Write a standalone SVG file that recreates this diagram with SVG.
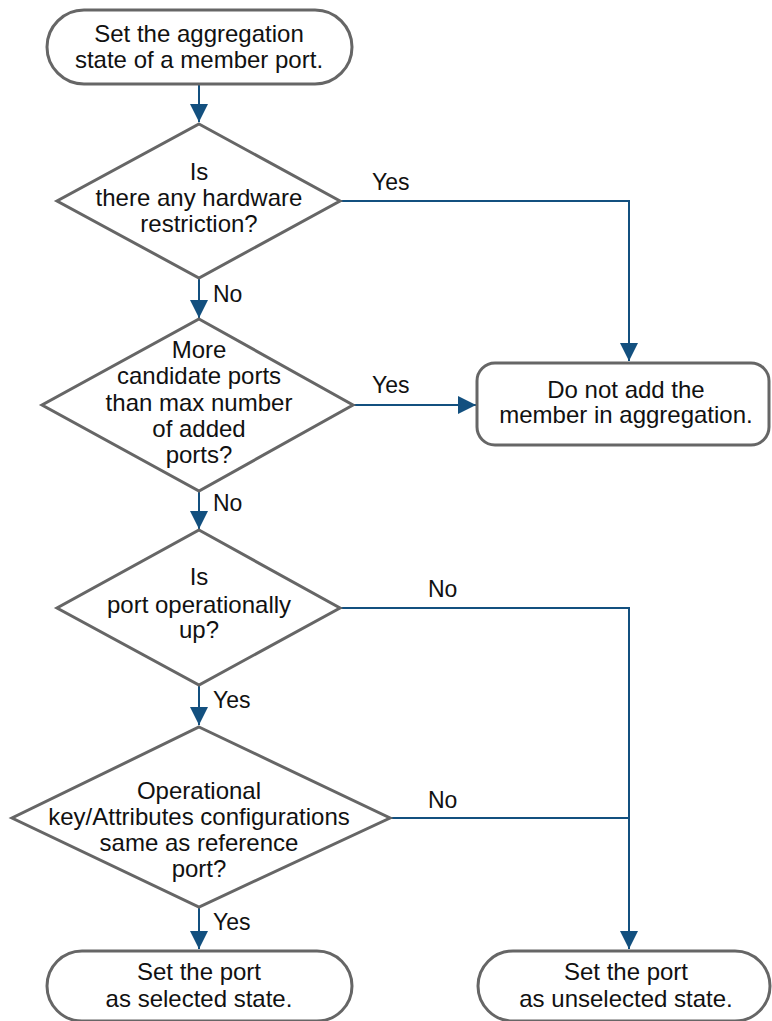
<svg xmlns="http://www.w3.org/2000/svg" width="772" height="1021" viewBox="0 0 772 1021">
<defs>
<style>
.box{fill:#fff;stroke:#666;stroke-width:3}
.t{font-family:"Liberation Sans",Arial,sans-serif;font-size:24px;fill:#111;text-anchor:middle}
.l{font-family:"Liberation Sans",Arial,sans-serif;font-size:23px;fill:#111}
.c{fill:none;stroke:#13507f;stroke-width:2}
</style>
<marker id="a" viewBox="0 0 18 18" refX="18" refY="9" markerWidth="18" markerHeight="18" markerUnits="userSpaceOnUse" orient="auto">
<path d="M0,0 L18,9 L0,18 Z" fill="#13507f"/>
</marker>
</defs>
<g id="connectors">
<path class="c" d="M199,85 V122" marker-end="url(#a)"/>
<path class="c" d="M340,201 H629 V361" marker-end="url(#a)"/>
<path class="c" d="M199,278 V318" marker-end="url(#a)"/>
<path class="c" d="M353,405 H476" marker-end="url(#a)"/>
<path class="c" d="M199,491 V529" marker-end="url(#a)"/>
<path class="c" d="M340,608 H629 V949" marker-end="url(#a)"/>
<path class="c" d="M199,685 V725" marker-end="url(#a)"/>
<path class="c" d="M390,818 H629"/>
<path class="c" d="M199,907 V949" marker-end="url(#a)"/>
<text class="l" x="372" y="190">Yes</text>
<text class="l" x="213" y="302">No</text>
<text class="l" x="372" y="393">Yes</text>
<text class="l" x="213" y="511">No</text>
<text class="l" x="428" y="597">No</text>
<text class="l" x="213" y="708">Yes</text>
<text class="l" x="428" y="808">No</text>
<text class="l" x="213" y="930">Yes</text>
</g>
<g id="start">
<rect class="box" x="47" y="10" width="305" height="74" rx="37"/>
<text class="t" x="199" y="42">Set the aggregation</text>
<text class="t" x="199" y="68">state of a member port.</text>
</g>
<g id="d1">
<polygon class="box" points="199,124 340,201 199,278 57,201"/>
<text class="t" x="199" y="180">Is</text>
<text class="t" x="199" y="206">there any hardware</text>
<text class="t" x="199" y="232">restriction?</text>
</g>
<g id="d2">
<polygon class="box" points="199,319 353,405 199,491 42,405"/>
<text class="t" x="199" y="358">More</text>
<text class="t" x="199" y="384">candidate ports</text>
<text class="t" x="199" y="411">than max number</text>
<text class="t" x="199" y="437">of added</text>
<text class="t" x="199" y="463">ports?</text>
</g>
<g id="notadd">
<rect class="box" x="477" y="363" width="292" height="82" rx="18"/>
<text class="t" x="626" y="398">Do not add the</text>
<text class="t" x="626" y="423">member in aggregation.</text>
</g>
<g id="d3">
<polygon class="box" points="199,530 340,608 199,685 57,608"/>
<text class="t" x="199" y="585">Is</text>
<text class="t" x="199" y="613">port operationally</text>
<text class="t" x="199" y="638">up?</text>
</g>
<g id="d4">
<polygon class="box" points="199,727 390,818 199,907 12,818"/>
<text class="t" x="199" y="799">Operational</text>
<text class="t" x="199" y="825">key/Attributes configurations</text>
<text class="t" x="199" y="851">same as reference</text>
<text class="t" x="199" y="877">port?</text>
</g>
<g id="selected">
<rect class="box" x="47" y="951" width="305" height="70" rx="35"/>
<text class="t" x="199" y="980">Set the port</text>
<text class="t" x="199" y="1007">as selected state.</text>
</g>
<g id="unselected">
<rect class="box" x="478" y="951" width="292" height="70" rx="35"/>
<text class="t" x="626" y="980">Set the port</text>
<text class="t" x="626" y="1007">as unselected state.</text>
</g>
</svg>
